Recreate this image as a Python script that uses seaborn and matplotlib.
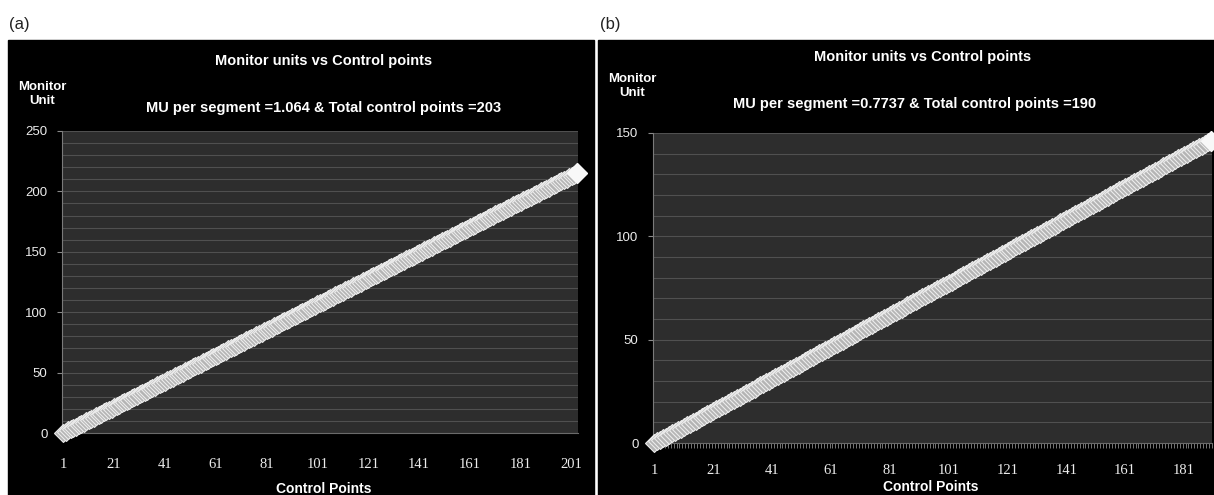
import numpy as np
import pandas as pd
import matplotlib
matplotlib.use("Agg")
import matplotlib.pyplot as plt
from matplotlib.patches import Rectangle
from matplotlib.ticker import MultipleLocator, FixedLocator
import seaborn as sns

# values stated on the chart: MU delivered per segment and number of control points
mu_per_segment_a = 1.064
control_points_a = 203
mu_per_segment_b = 0.7737
control_points_b = 190

xtick_labels_a = [1, 21, 41, 61, 81, 101, 121, 141, 161, 181, 201]
xtick_labels_b = [1, 21, 41, 61, 81, 101, 121, 141, 161, 181]
ytick_labels_a = [0, 50, 100, 150, 200, 250]
ytick_labels_b = [0, 50, 100, 150]

title = "Monitor units vs Control points"
subtitle_a = "MU per segment =1.064 & Total control points =203"
subtitle_b = "MU per segment =0.7737 & Total control points =190"


# cumulative monitor units at each control point (segments are equal weight)
def cumulative_mu(mu_seg, n_points):
    segments = np.repeat(mu_seg, n_points - 1)
    return pd.DataFrame({
        "point": np.arange(1, n_points + 1),
        "mu": np.concatenate([[0.0], np.cumsum(segments)]),
    })


df_a = cumulative_mu(mu_per_segment_a, control_points_a)
df_b = cumulative_mu(mu_per_segment_b, control_points_b)

sns.set_style("dark")
plt.rcParams["font.family"] = ["Liberation Sans", "DejaVu Sans"]

W, H = 1214, 495
fig = plt.figure(figsize=(W / 100, H / 100), dpi=100)
fig.patch.set_facecolor("white")

# black chart panels (behind the axes)
fig.patches.append(Rectangle((8 / W, 0), (594 - 8) / W, (H - 40) / H,
                             transform=fig.transFigure, color="black", zorder=-5))
fig.patches.append(Rectangle((598 / W, 0), (W - 598) / W, (H - 40) / H,
                             transform=fig.transFigure, color="black", zorder=-5))

ax_a = fig.add_axes([62 / W, (H - 433) / H, (578 - 62) / W, (433 - 131) / H])
ax_b = fig.add_axes([653 / W, (H - 443) / H, (1212 - 653) / W, (443 - 133) / H])

tick_font = {"family": ["Liberation Sans"], "size": 9.5}
xtick_font = {"family": ["Liberation Serif"], "size": 10.5}


def style_panel(ax, df, n_points, ymax, xticks, yticks, xpad, minor_x):
    ax.set_facecolor("#2d2d2d")
    sns.lineplot(data=df, x="point", y="mu", ax=ax, color="#cfcfcf", lw=3,
                 marker="D", markersize=9.5, markerfacecolor="#b4b4b4",
                 markeredgecolor="#ececec", markeredgewidth=0.8, zorder=3,
                 clip_on=False)
    last = df.iloc[-1]
    ax.plot(last["point"], last["mu"], marker="D", markersize=10,
            color="#f8f8f8", zorder=4, clip_on=False)
    ax.set_xlim(0.5, n_points + 0.5)
    ax.set_ylim(0, ymax)
    ax.set_xticks(xticks)
    ax.set_xticklabels([str(t) for t in xticks], fontdict=xtick_font, color="#ececec")
    ax.set_yticks(yticks)
    ax.set_yticklabels([str(t) for t in yticks], fontdict=tick_font, color="#ececec")
    ax.yaxis.set_minor_locator(MultipleLocator(10))
    ax.grid(False)
    ax.grid(which="minor", axis="y", color="#505050", lw=0.8)
    ax.grid(which="major", axis="y", color="#505050", lw=0.8)
    ax.tick_params(axis="y", which="major", direction="out", length=3.5,
                   width=0.8, color="#8a8a8a", pad=7, left=True)
    ax.tick_params(axis="y", which="minor", length=0)
    if minor_x:
        ax.xaxis.set_minor_locator(FixedLocator(np.arange(0.5, n_points + 1, 1.0)))
        ax.tick_params(axis="x", which="minor", direction="out", length=3.6,
                       width=0.6, color="#8a8a8a", bottom=True)
    ax.tick_params(axis="x", which="major", length=0, pad=xpad)
    for side in ["top", "right"]:
        ax.spines[side].set_visible(False)
    ax.spines["left"].set_color("#7a7a7a")
    ax.spines["bottom"].set_color("#6a6a6a")
    ax.spines["left"].set_linewidth(0.8)
    ax.spines["bottom"].set_linewidth(0.8)
    ax.set_xlabel("")
    ax.set_ylabel("")


style_panel(ax_a, df_a, control_points_a, 250, xtick_labels_a, ytick_labels_a, 18, False)
style_panel(ax_b, df_b, control_points_b, 150, xtick_labels_b, ytick_labels_b, 15, True)

head_font = dict(color="white", fontsize=10.5, fontweight="bold", ha="center", va="center")


def fy(px):
    return 1 - px / H


# panel letters
fig.text(9 / W, fy(24), "(a)", fontsize=12, family="Liberation Sans", color="#222222", va="center")
fig.text(600 / W, fy(24), "(b)", fontsize=12, family="Liberation Sans", color="#222222", va="center")

# panel (a) texts
fig.text(324 / W, fy(61), title, **head_font)
fig.text(324 / W, fy(108), subtitle_a, **head_font)
fig.text(42 / W, fy(94), "Monitor\nUnit", linespacing=1.25, **{**head_font, "fontsize": 9.5})
fig.text(324 / W, fy(489), "Control Points", **{**head_font, "fontsize": 10})

# panel (b) texts
fig.text(923 / W, fy(57), title, **head_font)
fig.text(915 / W, fy(104), subtitle_b, **head_font)
fig.text(632 / W, fy(86), "Monitor\nUnit", linespacing=1.25, **{**head_font, "fontsize": 9.5})
fig.text(931 / W, fy(487), "Control Points", **{**head_font, "fontsize": 10})

fig.savefig("out.png", dpi=100, facecolor=fig.get_facecolor())
